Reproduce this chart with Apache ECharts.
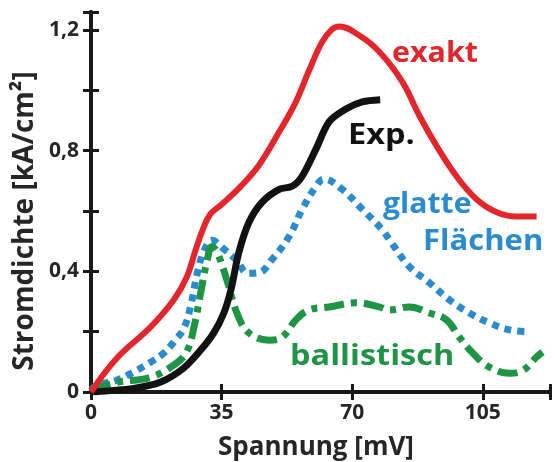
<!DOCTYPE html>
<html>
<head>
<meta charset="utf-8">
<script src="https://cdn.jsdelivr.net/npm/echarts@6/dist/echarts.min.js"></script>
<style>html,body{margin:0;padding:0;background:#fff;}#c{width:555px;height:462px;}</style>
</head>
<body>
<div id="c"></div>
<script>
// ---- data (Spannung in mV, Stromdichte in kA/cm²) ----
const exaktV = [0, 6.9, 16.0, 22.2, 25.7, 28.0, 30.0, 32.0, 35.0, 40.0, 45.0, 50.4, 54.9, 58.4, 61.9, 64.6, 66.5, 71.9, 77.2, 83.4, 88.0, 92.6, 97.9, 103.3, 108.7, 114.0, 119.4];
const exaktJ = [0, 0.112, 0.216, 0.306, 0.382, 0.47, 0.54, 0.59, 0.622, 0.68, 0.752, 0.862, 0.962, 1.065, 1.16, 1.203, 1.212, 1.182, 1.129, 1.029, 0.916, 0.816, 0.716, 0.639, 0.596, 0.582, 0.582];

const expV = [0, 11.4, 18.7, 24.9, 29.4, 32.9, 35.6, 37.5, 39.6, 42.3, 45.8, 50.4, 53.9, 56.6, 60.3, 63.8, 68.4, 72.7, 77.5];
const expJ = [0, 0.012, 0.033, 0.08, 0.139, 0.196, 0.262, 0.339, 0.462, 0.562, 0.629, 0.672, 0.682, 0.716, 0.806, 0.896, 0.939, 0.962, 0.969];

const glattV = [0, 1.5, 6.9, 11.4, 16.0, 19.5, 22.2, 24.9, 26.8, 28.4, 30.2, 32.4, 35.6, 39.1, 42.0, 45.0, 48.5, 53.1, 56.6, 60.3, 62.4, 67.3, 72.7, 78.0, 79.9, 85.3, 90.7, 96.0, 101.4, 106.8, 112.2, 117.5];
const glattJ = [0.005, 0.022, 0.039, 0.066, 0.099, 0.129, 0.166, 0.212, 0.29, 0.39, 0.465, 0.503, 0.474, 0.435, 0.394, 0.396, 0.439, 0.516, 0.606, 0.682, 0.706, 0.672, 0.606, 0.539, 0.506, 0.416, 0.362, 0.306, 0.262, 0.229, 0.206, 0.199];

const ballV = [0, 6.9, 16.0, 22.9, 25.7, 27.6, 29.4, 31.1, 32.4, 33.7, 36.4, 39.1, 42.3, 47.7, 51.2, 54.9, 58.4, 63.8, 71.1, 77.2, 79.9, 85.3, 90.7, 95.3, 98.7, 102.3, 106.8, 112.2, 115.8, 119.4, 121.0];
const ballJ = [0.008, 0.032, 0.049, 0.096, 0.135, 0.215, 0.33, 0.435, 0.482, 0.466, 0.372, 0.262, 0.196, 0.172, 0.182, 0.239, 0.272, 0.282, 0.296, 0.282, 0.272, 0.282, 0.262, 0.239, 0.182, 0.129, 0.082, 0.062, 0.072, 0.116, 0.132];

const xTicks = [0, 35, 70, 105];
const yTicks = ['0', '0,4', '0,8', '1,2'];
const curveNames = ['exakt', 'Exp.', 'glatte', 'Flächen', 'ballistisch'];
const xTitle = 'Spannung [mV]';
const yTitle = 'Stromdichte [kA/cm²]';

const pairs = (xs, ys) => xs.map((x, i) => [x, ys[i]]);
const FONT = '"Open Sans", "Noto Sans", sans-serif';
const RED = '#e3262b', BLACK = '#121212', BLUE = '#2a8ccf', GREEN = '#1e9444';

const chart = echarts.init(document.getElementById('c'), null, {renderer: 'canvas'});

const xLabelFmt = v => (Math.abs(v - Math.round(v)) < 1e-6 && xTicks.indexOf(Math.round(v)) >= 0) ? String(Math.round(v)) : '';
const yLabelFmt = v => {
  const k = v / 0.4;
  if (Math.abs(k - Math.round(k)) < 1e-6 && Math.round(k) <= 3) return yTicks[Math.round(k)];
  return '';
};

const axisLine = {show: true, lineStyle: {color: '#1a1a1a', width: 4}};
const tick = {show: true, inside: true, length: 8, lineStyle: {color: '#1a1a1a', width: 3}};
const labelStyle = {color: '#262626', fontSize: 21, fontWeight: 'bold', fontFamily: FONT};

chart.setOption({
  animation: false,
  backgroundColor: '#ffffff',
  grid: {left: 91, right: 5, top: 12, bottom: 70, containLabel: false},
  xAxis: [
    {type: 'value', min: 0, max: 123, interval: 35, position: 'bottom',
      axisLine: axisLine, axisTick: tick, splitLine: {show: false},
      axisLabel: Object.assign({formatter: xLabelFmt, margin: 11}, labelStyle)},
    {type: 'value', min: 0, max: 123, interval: 35, position: 'top',
      axisLine: axisLine, axisTick: tick, splitLine: {show: false}, axisLabel: {show: false}}
  ],
  yAxis: [
    {type: 'value', min: 0, max: 1.26, interval: 0.2, position: 'left',
      axisLine: axisLine, axisTick: tick, splitLine: {show: false},
      axisLabel: Object.assign({formatter: yLabelFmt, margin: 12}, labelStyle)},
    {type: 'value', min: 0, max: 1.26, interval: 0.2, position: 'right',
      axisLine: axisLine, axisTick: tick, splitLine: {show: false}, axisLabel: {show: false}}
  ],
  series: [
    {name: 'glatte Flächen', type: 'line', data: pairs(glattV, glattJ), smooth: 0.4, showSymbol: false, z: 2,
      lineStyle: {color: BLUE, width: 7, type: [7, 6], cap: 'butt'}},
    {name: 'ballistisch', type: 'line', data: pairs(ballV, ballJ), smooth: 0.4, showSymbol: false, z: 3,
      lineStyle: {color: GREEN, width: 7, type: [20, 7, 6, 7], cap: 'butt'}},
    {name: 'Exp.', type: 'line', data: pairs(expV, expJ), smooth: 0.3, showSymbol: false, z: 4,
      lineStyle: {color: BLACK, width: 7}},
    {name: 'exakt', type: 'line', data: pairs(exaktV, exaktJ), smooth: 0.4, showSymbol: false, z: 5,
      lineStyle: {color: RED, width: 6}}
  ],
  graphic: [
    {type: 'text', x: 392, y: 54, scaleX: 1.05, style: {text: curveNames[0], fill: RED, font: 'bold 29px ' + FONT, textAlign: 'left', textVerticalAlign: 'middle'}},
    {type: 'text', x: 348, y: 136, scaleX: 1.12, style: {text: curveNames[1], fill: BLACK, font: 'bold 29px ' + FONT, textAlign: 'left', textVerticalAlign: 'middle'}},
    {type: 'text', x: 383, y: 205, scaleX: 1.04, style: {text: curveNames[2], fill: BLUE, font: 'bold 29px ' + FONT, textAlign: 'left', textVerticalAlign: 'middle'}},
    {type: 'text', x: 423, y: 242, scaleX: 1.07, style: {text: curveNames[3], fill: BLUE, font: 'bold 29px ' + FONT, textAlign: 'left', textVerticalAlign: 'middle'}},
    {type: 'text', x: 290, y: 357, scaleX: 1.12, style: {text: curveNames[4], fill: GREEN, font: 'bold 29px ' + FONT, textAlign: 'left', textVerticalAlign: 'middle'}},
    {type: 'text', x: 316, y: 448, style: {text: xTitle, fill: '#262626', font: 'bold 26px ' + FONT, textAlign: 'center', textVerticalAlign: 'middle'}},
    {type: 'text', x: 25, y: 221, rotation: Math.PI / 2, style: {text: yTitle, fill: '#262626', font: 'bold 28px ' + FONT, textAlign: 'center', textVerticalAlign: 'middle'}}
  ]
});
</script>
</body>
</html>
